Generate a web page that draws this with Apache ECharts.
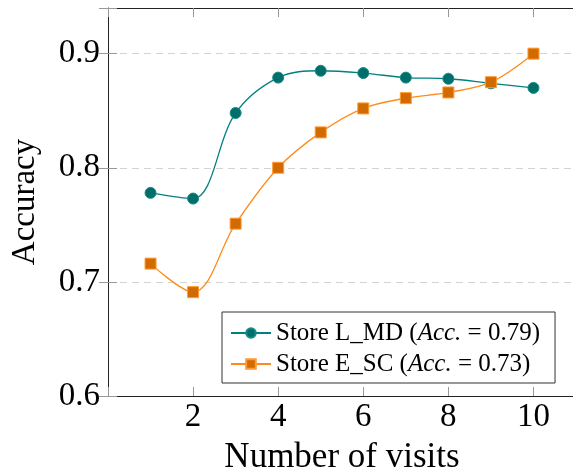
<!DOCTYPE html>
<html>
<head>
<meta charset="utf-8">
<script src="https://cdn.jsdelivr.net/npm/echarts@6/dist/echarts.min.js"></script>
<style>
html,body{margin:0;padding:0;background:#fff;}
#chart{width:573px;height:474px;}
</style>
</head>
<body>
<div id="chart"></div>
<script>
const visits = [1, 2, 3, 4, 5, 6, 7, 8, 9, 10];
const storeLMD = [0.778, 0.773, 0.848, 0.879, 0.885, 0.883, 0.879, 0.878, 0.874, 0.870];
const storeESC = [0.716, 0.691, 0.751, 0.800, 0.831, 0.852, 0.861, 0.866, 0.875, 0.900];
const seriesNames = ['Store L_MD', 'Store E_SC'];
const seriesAcc = ['0.79', '0.73'];
const xTicks = [2, 4, 6, 8, 10];
const yTicks = [0.6, 0.7, 0.8, 0.9];

const FONT = 'Liberation Serif';
const chart = echarts.init(document.getElementById('chart'), null, {renderer: 'canvas'});

const pair = (xs, ys) => xs.map((x, i) => [x, ys[i]]);
const tickColor = '#999';
const axisColor = '#222';

chart.setOption({
  animation: false,
  backgroundColor: '#fff',
  grid: {left: 108, top: 8, right: -3, bottom: 78, containLabel: false, outerBoundsMode: 'none'},
  xAxis: [{
    type: 'value', min: 0, max: 11, interval: 2, position: 'bottom',
    name: 'Number of visits', nameLocation: 'middle', nameGap: 44,
    nameTextStyle: {fontFamily: FONT, fontSize: 35, color: '#000'},
    axisLine: {show: true, lineStyle: {color: axisColor, width: 1}},
    axisTick: {show: true, inside: true, length: 9, lineStyle: {color: tickColor}},
    axisLabel: {
      fontFamily: FONT, fontSize: 33, color: '#000', margin: 5,
      formatter: v => xTicks.includes(v) ? String(v) : ''
    },
    splitLine: {show: false}
  }, {
    type: 'value', min: 0, max: 11, interval: 2, position: 'top',
    axisLine: {show: true, lineStyle: {color: axisColor, width: 1}},
    axisTick: {show: true, inside: true, length: 9, lineStyle: {color: tickColor}},
    axisLabel: {show: false},
    splitLine: {show: false}
  }],
  yAxis: [{
    type: 'value', min: 0.6, max: 0.94, interval: 0.1, position: 'left',
    name: 'Accuracy', nameLocation: 'middle', nameGap: 66,
    nameTextStyle: {fontFamily: FONT, fontSize: 33, color: '#000'},
    axisLine: {show: true, lineStyle: {color: axisColor, width: 1}},
    axisTick: {show: true, inside: true, length: 9, lineStyle: {color: tickColor}},
    axisLabel: {
      fontFamily: FONT, fontSize: 33, color: '#000', margin: 8,
      formatter: v => {
        const r = Math.round(v * 10) / 10;
        return (Math.abs(v - r) < 1e-6 && yTicks.includes(r)) ? r.toFixed(1) : '';
      }
    },
    splitLine: {show: true, lineStyle: {color: '#d3d3d3', type: [7, 5], width: 1.2}}
  }, {
    type: 'value', min: 0.6, max: 0.94, interval: 0.1, position: 'right',
    axisLine: {show: false},
    axisTick: {show: true, inside: true, length: 9, lineStyle: {color: tickColor}},
    axisLabel: {show: false},
    splitLine: {show: false}
  }],
  legend: {
    orient: 'vertical', left: 222, top: 312,
    padding: [8, 15, 6, 8],
    itemGap: 5, itemWidth: 40, itemHeight: 12,
    borderColor: '#333', borderWidth: 1, backgroundColor: '#fff',
    data: seriesNames,
    formatter: name => {
      const i = seriesNames.indexOf(name);
      return name + ' ({it|Acc.} = ' + seriesAcc[i] + ')';
    },
    textStyle: {
      fontFamily: FONT, fontSize: 25, color: '#000', lineHeight: 26,
      rich: {it: {fontFamily: FONT, fontSize: 25, fontStyle: 'italic', color: '#000'}}
    }
  },
  series: [{
    name: seriesNames[0], type: 'line', smooth: 0.35,
    data: pair(visits, storeLMD),
    symbol: 'circle', symbolSize: 11,
    lineStyle: {color: '#008080', width: 1.3},
    itemStyle: {color: '#006e6a', borderColor: '#1a8a86', borderWidth: 1}
  }, {
    name: seriesNames[1], type: 'line', smooth: 0.35,
    data: pair(visits, storeESC),
    symbol: 'rect', symbolSize: 11,
    lineStyle: {color: '#ff8c1a', width: 1.3},
    itemStyle: {color: '#d26a00', borderColor: '#ff9a33', borderWidth: 1}
  }]
});
</script>
</body>
</html>
